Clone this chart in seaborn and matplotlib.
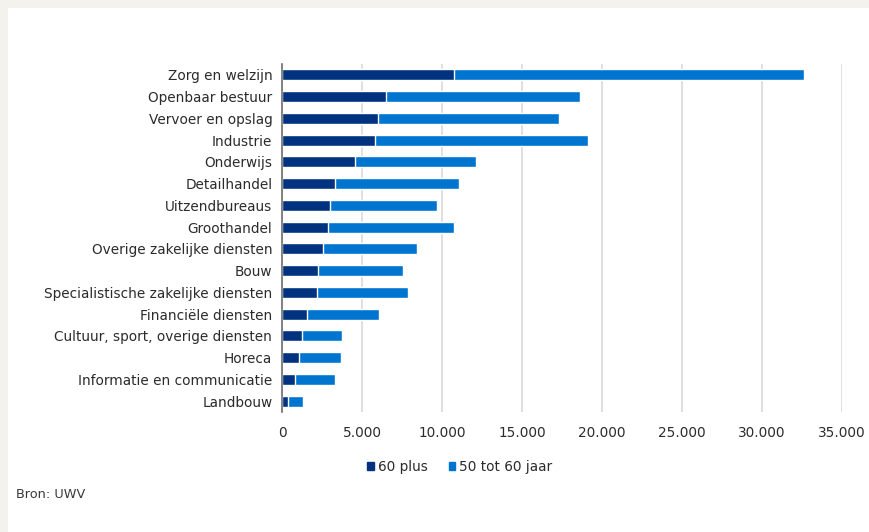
import pandas as pd
import matplotlib.pyplot as plt
import seaborn as sns
from matplotlib.patches import Patch, Rectangle
from matplotlib.ticker import FuncFormatter

# Sectors, top to bottom
sectors = ['Zorg en welzijn', 'Openbaar bestuur', 'Vervoer en opslag', 'Industrie',
           'Onderwijs', 'Detailhandel', 'Uitzendbureaus', 'Groothandel',
           'Overige zakelijke diensten', 'Bouw', 'Specialistische zakelijke diensten',
           'Financiële diensten', 'Cultuur, sport, overige diensten', 'Horeca',
           'Informatie en communicatie', 'Landbouw']
plus_60 = [10750, 6480, 6020, 5830, 4560, 3330, 2990, 2870,
           2570, 2250, 2180, 1570, 1230, 1090, 790, 350]
age_50_60 = [21850, 12120, 11280, 13270, 7590, 7710, 6690, 7870,
             5860, 5320, 5710, 4490, 2500, 2570, 2500, 990]
x_ticks = [0, 5000, 10000, 15000, 20000, 25000, 30000, 35000]

dark = '#00327f'
light = '#0075d0'
text_col = '#2b2b2b'

sns.set_theme(style='white')
plt.rcParams['font.family'] = ['DejaVu Sans']

df = pd.DataFrame({'sector': sectors, 'plus': plus_60, 'mid': age_50_60})
df['total'] = df['plus'] + df['mid']

W, H = 870, 532
fig = plt.figure(figsize=(W / 100, H / 100), dpi=100, facecolor='#f3f2ec')
fig.patches.append(Rectangle((8 / W, 0), 1, 1 - 8 / H, transform=fig.transFigure,
                             facecolor='white', edgecolor='none', zorder=-10))

ax = fig.add_axes([282 / W, 1 - 412 / H, 560 / W, 348 / H])
ax.set_facecolor('none')

# stacked: full total in light blue, 60 plus drawn over it
sns.barplot(data=df, x='total', y='sector', color=light, width=0.5,
            orient='h', ax=ax, saturation=1, zorder=3)
sns.barplot(data=df, x='plus', y='sector', color=dark, width=0.5,
            orient='h', ax=ax, saturation=1, zorder=4)

ax.set_xlim(0, 35000)
ax.set_xticks(x_ticks)
ax.xaxis.set_major_formatter(FuncFormatter(lambda v, p: f'{int(v):,}'.replace(',', '.')))
ax.grid(axis='x', color='#d9d9d9', linewidth=1.2, zorder=0)
ax.grid(axis='y', visible=False)
ax.set_xlabel('')
ax.set_ylabel('')
for s in ['top', 'right', 'bottom']:
    ax.spines[s].set_visible(False)
ax.spines['left'].set_color('#6e6e6e')
ax.spines['left'].set_linewidth(1.2)
ax.spines['left'].set_zorder(5)
ax.tick_params(axis='y', length=0, pad=7, labelsize=9.8, labelcolor=text_col)
ax.tick_params(axis='x', length=0, pad=10, labelsize=9.8, labelcolor=text_col)

handles = [Patch(color=dark, label='60 plus'), Patch(color=light, label='50 tot 60 jaar')]
fig.legend(handles=handles, loc='center', bbox_to_anchor=(460 / W, 1 - 467 / H),
           ncol=2, frameon=False, handlelength=0.5, handleheight=0.5,
           handletextpad=0.3, columnspacing=1.5, fontsize=9.8, labelcolor=text_col)

fig.text(16 / W, 1 - 494 / H, 'Bron: UWV', fontsize=9.3, color='#3a3a3a', va='center')

fig.savefig('out.png', dpi=100, facecolor=fig.get_facecolor())
